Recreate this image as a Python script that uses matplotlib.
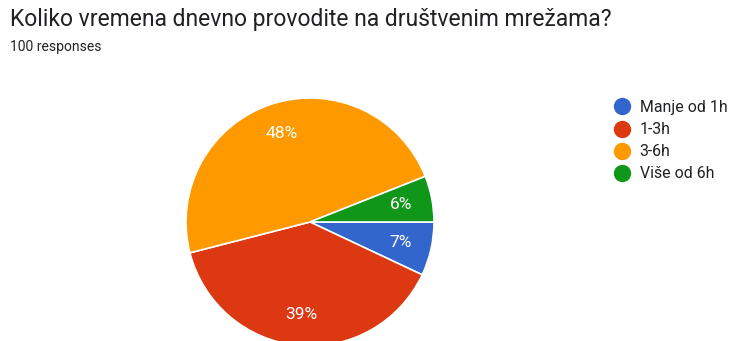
import matplotlib
matplotlib.use("Agg")
import matplotlib.pyplot as plt
from matplotlib.lines import Line2D

plt.rcParams['font.family'] = ['Roboto', 'DejaVu Sans']

# survey answers
categories = ['Manje od 1h', '1-3h', '3-6h', 'Više od 6h']
shares = [7, 39, 48, 6]
colors = ['#3366cc', '#dc3912', '#ff9900', '#109618']

title = 'Koliko vremena dnevno provodite na društvenim mrežama?'
subtitle = '100 responses'

W, H = 731, 341
fig = plt.figure(figsize=(W / 100, H / 100), dpi=100)

fig.text(10 / W, 1 - 26 / H, title, fontsize=16.5, color='#202124', va='baseline')
fig.text(10 / W, 1 - 51 / H, subtitle, fontsize=10, color='#202124', va='baseline')

# pie centred at (310, 222) px with radius 124 px
cx, cy, r = 310, 222, 124
ax = fig.add_axes([(cx - r) / W, (H - cy - r) / H, 2 * r / W, 2 * r / H])
wedges, texts = ax.pie(shares, colors=colors, startangle=0, counterclock=False,
                       labels=[f'{v}%' for v in shares], labeldistance=0.75,
                       wedgeprops=dict(edgecolor='white', linewidth=1.2),
                       textprops=dict(color='white', fontsize=12.5))
for t in texts:
    t.set_ha('center')
    t.set_va('center')
ax.set_xlim(-1, 1)
ax.set_ylim(-1, 1)
ax.axis('off')

handles = [Line2D([], [], marker='o', linestyle='', markersize=11.5,
                  markerfacecolor=c, markeredgecolor=c) for c in colors]
fig.legend(handles, categories, loc='upper left',
           bbox_to_anchor=(612 / W, 1 - 100 / H), frameon=False,
           fontsize=11.4, labelspacing=0.45, handletextpad=0.45,
           handlelength=1.3, borderaxespad=0, borderpad=0,
           labelcolor='#202124')

fig.savefig('out.png', dpi=100)
